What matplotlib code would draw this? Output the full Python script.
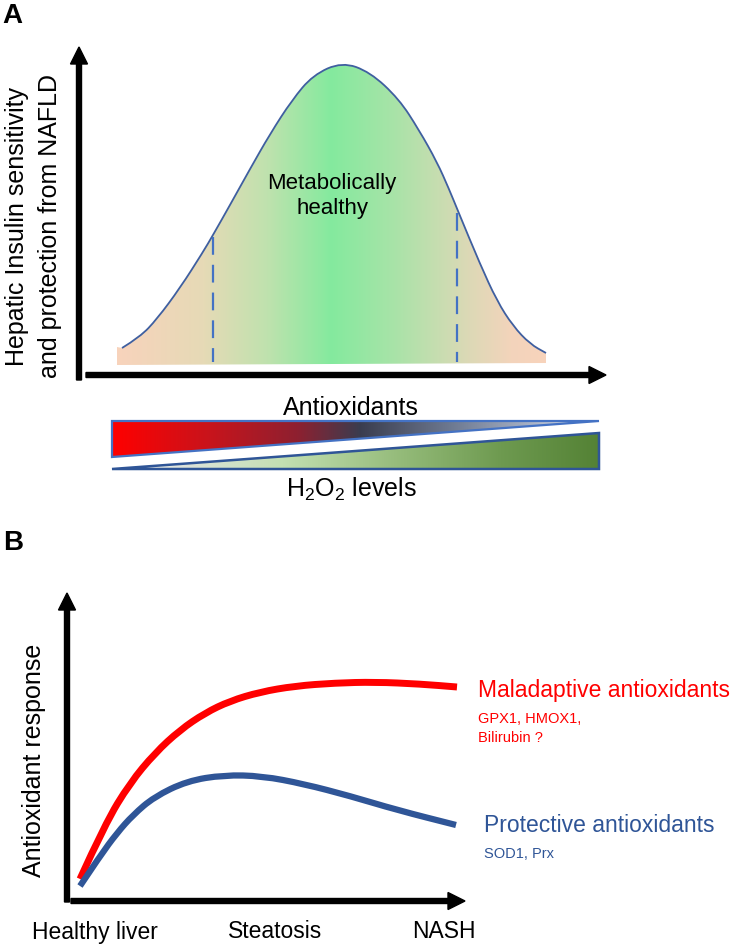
import numpy as np
import matplotlib
matplotlib.use("Agg")
import matplotlib.pyplot as plt
from matplotlib.path import Path
from matplotlib.patches import PathPatch, Polygon, FancyArrow
from matplotlib.colors import LinearSegmentedColormap

plt.rcParams["font.family"] = ["Liberation Sans", "DejaVu Sans"]

# ---- panel A: bell curve (pixel coordinates) ----
bell_x = [122, 140, 157, 180, 203, 213, 230, 250, 270, 292, 313, 342, 370, 399, 419, 437, 449, 458, 480, 497, 513, 530, 546]
bell_y = [349, 338, 320, 289, 253, 236, 206, 170, 135, 101, 76, 63, 73, 100, 131, 163, 190, 212, 265, 302, 327, 345, 354]
dash_x = [213, 457]
dash_top = [238, 214]
dash_bottom = 363

# ---- panel B: antioxidant response curves ----
red_x = [80, 105, 130, 155, 180, 205, 230, 260, 295, 335, 375, 420, 457]
red_y = [880, 825, 784, 754, 731, 714, 702, 693, 687, 684, 683, 685, 688]
blue_x = [80, 100, 117, 133, 154, 187, 224, 262, 304, 350, 397, 456]
blue_y = [887, 857, 834, 816, 798, 782, 776, 777, 785, 797, 811, 826]
stage_labels = ["Healthy liver", "Steatosis", "NASH"]
stage_x = [95, 275, 444]


def smooth_path(xs, ys, start=None, end=None):
    """Quadratic-bezier path through the midpoints of the read points."""
    pts = list(zip(xs, ys))
    verts, codes = [], []
    if start:
        verts += start; codes += [Path.MOVETO] + [Path.LINETO] * (len(start) - 1)
        verts.append(pts[0]); codes.append(Path.LINETO)
    else:
        verts.append(pts[0]); codes.append(Path.MOVETO)
    for i in range(1, len(pts) - 1):
        mid = ((pts[i][0] + pts[i + 1][0]) / 2, (pts[i][1] + pts[i + 1][1]) / 2)
        verts += [pts[i], mid]; codes += [Path.CURVE3, Path.CURVE3]
    verts.append(pts[-1]); codes.append(Path.LINETO)
    if end:
        verts += end; codes += [Path.LINETO] * len(end)
        verts.append(verts[0]); codes.append(Path.CLOSEPOLY)
    return Path(verts, codes)


def gradient(ax, x0, x1, y0, y1, colors, clip):
    cmap = LinearSegmentedColormap.from_list("g", colors)
    ax.imshow(np.linspace(0, 1, 512)[None, :], extent=(x0, x1, y1, y0), cmap=cmap,
              aspect="auto", interpolation="bilinear", clip_path=clip, zorder=1)


fig = plt.figure(figsize=(7.33, 9.45), dpi=100)
ax = fig.add_axes([0, 0, 1, 1])

# bell fill with horizontal gradient
fill_path = smooth_path(bell_x, bell_y, start=[(117, 366), (117, 348)], end=[(546, 364)])
fill_patch = PathPatch(fill_path, facecolor="none", edgecolor="none")
ax.add_patch(fill_patch)
gradient(ax, 117, 546, 55, 366,
         [(0.0, "#F8D3BC"), (0.2, "#E6DAB6"), (0.35, "#BFE2AE"), (0.5, "#84EA9E"),
          (0.65, "#A9E3A8"), (0.82, "#DCD9B6"), (0.92, "#F3D4BB"), (1.0, "#F8D3BC")], fill_patch)
ax.add_patch(PathPatch(smooth_path(bell_x, bell_y), facecolor="none", edgecolor="#3F5FA0", lw=1.3, zorder=3))
for x, yt in zip(dash_x, dash_top):
    ax.plot([x, x], [yt, dash_bottom], color="#4472C4", lw=1.6, ls=(0, (8, 4.5)), zorder=3)
ax.text(332, 196, "Metabolically\nhealthy", ha="center", va="center", fontsize=16, zorder=4)

# axes arrows
arrow_kw = dict(width=5, head_width=17, head_length=17, length_includes_head=True,
                color="black", zorder=5)
ax.add_patch(FancyArrow(79, 381, 0, 48 - 381, **arrow_kw))
ax.add_patch(FancyArrow(86, 376, 606 - 86, 0, **arrow_kw))
ax.add_patch(FancyArrow(67, 903, 0, 594 - 903, **arrow_kw))
ax.add_patch(FancyArrow(71, 902, 465 - 71, 0, **arrow_kw))

ax.text(17, 226, "Hepatic Insulin sensitivity", rotation=90, ha="center", va="center", fontsize=18)
ax.text(50, 226, "and protection from NAFLD", rotation=90, ha="center", va="center", fontsize=18)
ax.text(2, 16, "A", fontsize=20, fontweight="bold", ha="left", va="center")
ax.text(3, 543, "B", fontsize=20, fontweight="bold", ha="left", va="center")

# antioxidant / H2O2 wedges
top = Polygon([(112, 422), (599, 422), (112, 458)], closed=True, facecolor="none",
              edgecolor="#4472C4", lw=1.6, zorder=3)
ax.add_patch(top)
gradient(ax, 112, 599, 422, 458,
         [(0.0, "#FF0000"), (0.2, "#C8141C"), (0.38, "#8E2030"), (0.51, "#3A3D4F"),
          (0.7, "#6E7A92"), (0.85, "#A4AEC2"), (1.0, "#E8ECF2")], top)
bottom = Polygon([(112, 470), (599, 434), (599, 470)], closed=True, facecolor="none",
                 edgecolor="#2F5597", lw=1.8, zorder=3)
ax.add_patch(bottom)
gradient(ax, 112, 599, 434, 470,
         [(0.0, "#FFFFFF"), (0.15, "#DDE3DA"), (0.35, "#C3E0B2"), (0.6, "#93BA78"),
          (0.8, "#6E9A50"), (1.0, "#548235")], bottom)
ax.text(351, 408, "Antioxidants", ha="center", va="center", fontsize=18)
ax.text(351, 489, r"H$_\mathregular{2}$O$_\mathregular{2}$ levels", ha="center", va="center", fontsize=18)

# panel B curves
ax.add_patch(PathPatch(smooth_path(red_x, red_y), facecolor="none", edgecolor="#FF0000",
                       lw=5, capstyle="butt", zorder=3))
ax.add_patch(PathPatch(smooth_path(blue_x, blue_y), facecolor="none", edgecolor="#2F5597",
                       lw=4.5, capstyle="butt", zorder=3))
ax.text(34, 760, "Antioxidant response", rotation=90, ha="center", va="center", fontsize=18)
for lab, x in zip(stage_labels, stage_x):
    ax.text(x, 932, lab, ha="center", va="center", fontsize=16.5)

ax.text(478, 690, "Maladaptive antioxidants", color="#FF0000", fontsize=16.5, ha="left", va="center")
ax.text(478, 719, "GPX1, HMOX1,", color="#FF0000", fontsize=10.5, ha="left", va="center")
ax.text(478, 738, "Bilirubin ?", color="#FF0000", fontsize=10.5, ha="left", va="center")
ax.text(484, 826, "Protective antioxidants", color="#2F5597", fontsize=16.5, ha="left", va="center")
ax.text(484, 854, "SOD1, Prx", color="#2F5597", fontsize=10.5, ha="left", va="center")

ax.set_xlim(0, 733)
ax.set_ylim(945, 0)
ax.axis("off")
fig.savefig("out.png", dpi=100)
